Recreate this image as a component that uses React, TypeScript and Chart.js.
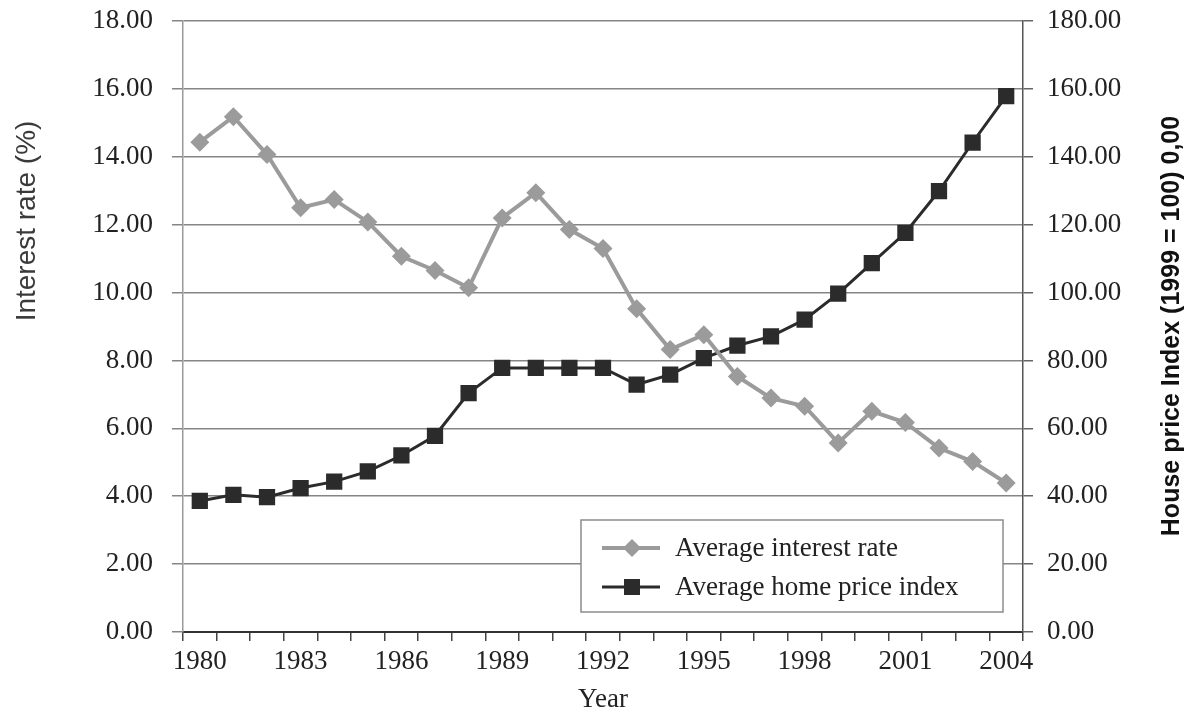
import React, { useEffect, useRef } from "react";
import { Chart, registerables } from "chart.js";

Chart.register(...registerables);

// ---- data ----
const years = [
  "1980", "1981", "1982", "1983", "1984", "1985", "1986", "1987", "1988", "1989",
  "1990", "1991", "1992", "1993", "1994", "1995", "1996", "1997", "1998", "1999",
  "2000", "2001", "2002", "2003", "2004",
];
const interestRate = [
  14.43, 15.18, 14.07, 12.5, 12.74, 12.08, 11.07, 10.65, 10.14, 12.2,
  12.94, 11.86, 11.3, 9.52, 8.32, 8.76, 7.53, 6.89, 6.65, 5.57,
  6.5, 6.17, 5.42, 5.02, 4.39,
];
const homePriceIndex = [
  38.6, 40.4, 39.7, 42.4, 44.3, 47.3, 52.0, 57.8, 70.4, 77.8,
  77.8, 77.8, 77.8, 72.9, 75.8, 80.7, 84.4, 87.1, 92.0, 99.7,
  108.7, 117.6, 129.9, 144.2, 157.9,
];
const seriesNames = ["Average interest rate", "Average home price index"];
const leftAxisRange = [0, 18, 2];
const rightAxisRange = [0, 180, 20];
const xTitle = "Year";
const leftTitle = "Interest rate (%)";
const rightTitle = "House price Index (1999 = 100) 0,00";

// ---- styles ----
const SERIF = "'Liberation Serif', 'Times New Roman', serif";
const SANS = "'Liberation Sans', Arial, sans-serif";
const GRAY = "#9b9b9b";
const DARK = "#2b2b2b";
const TEXT = "#222222";

const overlayPlugin = {
  id: "overlay",
  afterDraw(chart: any) {
    const ctx = chart.ctx;
    const ca = chart.chartArea;
    ctx.save();
    // x title
    ctx.fillStyle = TEXT;
    ctx.font = `27px ${SERIF}`;
    ctx.textAlign = "center";
    ctx.textBaseline = "alphabetic";
    ctx.fillText(xTitle, (ca.left + ca.right) / 2, ca.bottom + 75);

    // left title
    ctx.save();
    ctx.translate(27, 221);
    ctx.rotate(-Math.PI / 2);
    ctx.font = `28px ${SANS}`;
    ctx.fillStyle = "#3a3a3a";
    ctx.textAlign = "center";
    ctx.textBaseline = "middle";
    ctx.fillText(leftTitle, 0, 0);
    ctx.restore();

    // right title
    ctx.save();
    ctx.translate(1172, 326);
    ctx.rotate(-Math.PI / 2);
    ctx.font = `bold 25px ${SANS}`;
    ctx.fillStyle = "#111111";
    ctx.textAlign = "center";
    ctx.textBaseline = "middle";
    ctx.fillText(rightTitle, 0, 0);
    ctx.restore();

    // legend
    const bx = 581, by = 520, bw = 422, bh = 92;
    ctx.fillStyle = "#ffffff";
    ctx.fillRect(bx, by, bw, bh);
    ctx.strokeStyle = "#8c8c8c";
    ctx.lineWidth = 1.5;
    ctx.strokeRect(bx, by, bw, bh);
    const rows = [
      { y: 548, color: GRAY, shape: "diamond", width: 4 },
      { y: 587, color: DARK, shape: "square", width: 3 },
    ];
    rows.forEach((r, i) => {
      ctx.strokeStyle = r.color;
      ctx.lineWidth = r.width;
      ctx.beginPath();
      ctx.moveTo(602, r.y);
      ctx.lineTo(660, r.y);
      ctx.stroke();
      ctx.fillStyle = r.color;
      const cx = 632;
      if (r.shape === "diamond") {
        ctx.beginPath();
        ctx.moveTo(cx, r.y - 9);
        ctx.lineTo(cx + 9, r.y);
        ctx.lineTo(cx, r.y + 9);
        ctx.lineTo(cx - 9, r.y);
        ctx.closePath();
        ctx.fill();
      } else {
        ctx.fillRect(cx - 8, r.y - 8, 16, 16);
      }
      ctx.fillStyle = TEXT;
      ctx.font = `27px ${SERIF}`;
      ctx.textAlign = "left";
      ctx.textBaseline = "middle";
      ctx.fillText(seriesNames[i], 675, r.y + 1);
    });
    ctx.restore();
  },
};

export default function App() {
  const canvasRef = useRef<HTMLCanvasElement | null>(null);

  useEffect(() => {
    document.body.style.margin = "0";
    const canvas = canvasRef.current;
    if (!canvas) return;
    const chart = new Chart(canvas, {
      type: "line",
      data: {
        labels: years,
        datasets: [
          {
            label: seriesNames[0],
            data: interestRate,
            yAxisID: "y",
            borderColor: GRAY,
            backgroundColor: GRAY,
            borderWidth: 4,
            pointStyle: "rectRot",
            pointRadius: 9.5,
            pointBorderWidth: 0,
            pointBackgroundColor: GRAY,
            tension: 0,
            order: 0,
          },
          {
            label: seriesNames[1],
            data: homePriceIndex,
            yAxisID: "y1",
            borderColor: DARK,
            backgroundColor: DARK,
            borderWidth: 3,
            pointStyle: "rect",
            pointRadius: 11.5,
            pointBorderWidth: 0,
            pointBackgroundColor: DARK,
            tension: 0,
            order: 1,
          },
        ],
      },
      options: {
        animation: false,
        responsive: false,
        devicePixelRatio: 1,
        layout: { padding: { top: 21, left: 0, right: 0, bottom: 0 } },
        plugins: {
          legend: { display: false },
          tooltip: { enabled: false },
        },
        scales: {
          x: {
            type: "category",
            offset: true,
            grid: {
              display: true,
              drawOnChartArea: false,
              drawTicks: true,
              tickLength: 9,
              offset: true,
              color: "#444444",
              lineWidth: 1.5,
            },
            border: { display: true, color: "#333333", width: 2 },
            ticks: {
              autoSkip: false,
              maxRotation: 0,
              minRotation: 0,
              padding: 5,
              color: TEXT,
              font: { family: SERIF, size: 27 },
              callback: (_v: any, i: number) => (i % 3 === 0 ? years[i] : ""),
            },
            afterFit: (s: any) => {
              s.height = 81;
              s.paddingLeft = 0;
              s.paddingRight = 0;
            },
          },
          y: {
            type: "linear",
            position: "left",
            min: leftAxisRange[0],
            max: leftAxisRange[1],
            grid: {
              color: "#858585",
              lineWidth: 1.5,
              tickLength: 11,
              drawTicks: true,
            },
            border: { display: true, color: "#9a9a9a", width: 1.5 },
            ticks: {
              stepSize: leftAxisRange[2],
              padding: 19,
              color: TEXT,
              font: { family: SERIF, size: 27 },
              callback: (v: any) => Number(v).toFixed(2),
            },
            afterFit: (s: any) => {
              s.width = 183;
              s.paddingTop = 0;
              s.paddingBottom = 0;
            },
          },
          y1: {
            type: "linear",
            position: "right",
            min: rightAxisRange[0],
            max: rightAxisRange[1],
            grid: {
              drawOnChartArea: false,
              drawTicks: true,
              tickLength: 10,
              color: "#666666",
              lineWidth: 1.5,
            },
            border: { display: true, color: "#555555", width: 1.5 },
            ticks: {
              stepSize: rightAxisRange[2],
              padding: 14,
              color: TEXT,
              font: { family: SERIF, size: 27 },
              callback: (v: any) => Number(v).toFixed(2),
            },
            afterFit: (s: any) => {
              s.width = 165;
              s.paddingTop = 0;
              s.paddingBottom = 0;
            },
          },
        },
      },
      plugins: [overlayPlugin],
    });
    return () => chart.destroy();
  }, []);

  return (
    <div style={{ width: 1188, height: 713, background: "#ffffff" }}>
      <canvas ref={canvasRef} width={1188} height={713} />
    </div>
  );
}
